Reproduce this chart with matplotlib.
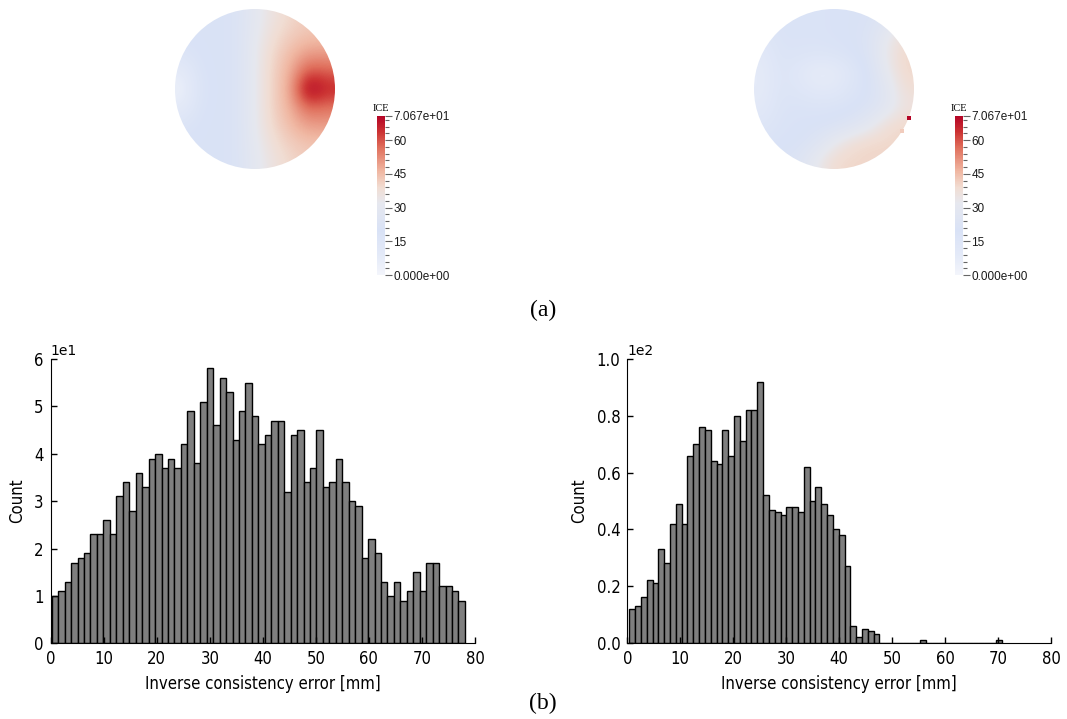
import numpy as np
import matplotlib
matplotlib.use("Agg")
import matplotlib.pyplot as plt
from matplotlib.colors import LinearSegmentedColormap, Normalize
from matplotlib.patches import Circle
from matplotlib.ticker import MultipleLocator
import matplotlib.cm as cm

# ---------------- data ----------------
left_counts = [10, 11, 13, 17, 18, 19, 23, 23, 26, 23,
               31, 34, 28, 36, 33, 39, 40, 37, 39, 37,
               42, 49, 38, 51, 58, 46, 56, 53, 43, 49,
               55, 48, 42, 44, 47, 47, 32, 44, 45, 34,
               37, 45, 33, 34, 39, 34, 30, 29, 18, 22,
               19, 13, 10, 13, 9, 11, 15, 11, 17, 17,
               12, 12, 11, 9]
left_range = (0.2, 78.1)

right_counts = [12, 13, 16, 22, 21, 33, 28, 42, 49, 42,
                66, 70, 76, 75, 64, 63, 75, 66, 80, 71,
                82, 82, 92, 52, 47, 46, 45, 48, 48, 46,
                62, 50, 55, 49, 45, 40, 38, 27, 6, 2,
                5, 4, 3, 0, 0, 0, 0, 0, 0, 0,
                1, 0, 0, 0, 0, 0, 0, 0, 0, 0,
                0, 0, 0, 1]
right_range = (0.38, 70.67)

ice_max = 70.67
cbar_ticks = [0, 15, 30, 45, 60, ice_max]
cbar_labels = ["0.000e+00", "15", "30", "45", "60", "7.067e+01"]

# ICE field sampled on a 9x9 grid (rows top->bottom, cols left->right)
ice_left = [
    [20, 20, 20, 22, 30, 36, 40, 42, 42],
    [20, 20, 20, 22, 31, 38, 42, 44, 44],
    [16, 20, 20, 22, 32, 40, 45, 50, 50],
    [8, 19, 20, 22, 32, 41, 47, 60, 58],
    [4, 18, 20, 22, 32, 41, 48, 74, 66],
    [8, 19, 20, 22, 32, 41, 47, 58, 56],
    [16, 20, 20, 22, 32, 40, 45, 50, 50],
    [20, 20, 20, 22, 31, 38, 42, 44, 44],
    [20, 20, 20, 22, 30, 36, 40, 42, 42],
]
ice_right = [
    [18, 18, 18, 18, 19, 20, 21, 25, 30],
    [14, 18, 18, 18, 19, 20, 23, 32, 38],
    [10, 17, 17, 16, 17, 19, 23, 34, 40],
    [8, 16, 12, 6, 7, 14, 21, 32, 40],
    [8, 16, 14, 10, 10, 16, 20, 28, 38],
    [10, 17, 18, 17, 18, 19, 22, 28, 36],
    [14, 18, 19, 20, 21, 24, 30, 38, 40],
    [18, 19, 20, 24, 32, 38, 40, 40, 40],
    [20, 21, 24, 32, 39, 40, 40, 40, 40],
]
right_spots_x = [0.94, 0.85]
right_spots_y = [0.36, 0.52]
right_spots_v = [70.67, 42]

# ---------------- style ----------------
cmap = LinearSegmentedColormap.from_list("ice", [
    (0.00, "#f3f5fb"), (0.12, "#e4eaf8"), (0.28, "#d9e2f6"),
    (0.45, "#e6e8ef"), (0.55, "#f1ddd3"), (0.65, "#f0b8a3"),
    (0.80, "#e0705d"), (0.90, "#cc3333"), (1.00, "#b40426")])
norm = Normalize(0, ice_max)

W, H = 1067, 719
fig = plt.figure(figsize=(W / 100, H / 100), dpi=100)

def box(x0, y0, x1, y1):
    return [x0 / W, 1 - y1 / H, (x1 - x0) / W, (y1 - y0) / H]

def field(rect, grid, sx=None, sy=None, sv=None):
    ax = fig.add_axes(box(*rect))
    im = ax.imshow(np.array(grid, float), cmap=cmap, norm=norm,
                   extent=[-1, 1, 1, -1], interpolation="bicubic")
    im.set_clip_path(Circle((0, 0), 1.0, transform=ax.transData))
    if sx is not None:
        ax.scatter(sx, sy, c=sv, cmap=cmap, norm=norm, marker="s", s=8,
                   linewidths=0, zorder=3)
    ax.set_xlim(-1, 1)
    ax.set_ylim(1, -1)
    ax.axis("off")

def cbar(rect):
    cax = fig.add_axes(box(*rect))
    cb = fig.colorbar(cm.ScalarMappable(norm=norm, cmap=cmap), cax=cax)
    cb.outline.set_visible(False)
    cb.set_ticks(cbar_ticks)
    cb.set_ticklabels(cbar_labels)
    cax.yaxis.set_minor_locator(MultipleLocator(3))
    cax.tick_params(which="both", direction="out", color="#666666",
                    width=0.8, labelsize=8.5, labelcolor="#1a1a1a", pad=1,
                    labelfontfamily="Liberation Sans")
    cax.tick_params(which="major", length=5)
    cax.tick_params(which="minor", length=3)
    cax.text(0.5, 1.02, "ICE", transform=cax.transAxes, ha="center",
             va="bottom", fontsize=7.5, family="Liberation Serif")

field((175, 9, 335, 169), ice_left)
cbar((377, 116, 385, 275))
field((754, 9, 914, 169), ice_right, right_spots_x, right_spots_y, right_spots_v)
cbar((955, 116, 963, 275))

def hist(rect, counts, rng, ymax):
    ax = fig.add_axes(box(*rect))
    edges = np.linspace(rng[0], rng[1], len(counts) + 1)
    ax.bar(edges[:-1], counts, width=np.diff(edges), align="edge",
           color="#7f7f7f", edgecolor="black", linewidth=1.0)
    ax.set_xlim(0, 80)
    ax.set_ylim(0, ymax)
    for s in ("top", "right"):
        ax.spines[s].set_visible(False)
    ax.tick_params(direction="in", length=4, width=1, top=False,
                   right=False, labelsize=12, pad=5)
    ax.ticklabel_format(axis="y", style="sci", scilimits=(0, 0))
    ax.yaxis.get_offset_text().set_fontsize(10)
    for lab in ax.get_xticklabels() + ax.get_yticklabels():
        lab.set_fontstretch("condensed")
    ax.set_xlabel("Inverse consistency error [mm]", fontsize=12, labelpad=5,
                  fontstretch="condensed")
    ax.set_ylabel("Count", fontsize=12, labelpad=6, fontstretch="condensed")
    return ax

hist((50.7, 359, 475, 643.3), left_counts, left_range, 60)
hist((627.3, 359.3, 1051, 642.7), right_counts, right_range, 100)

fig.text(543 / W, 1 - 310 / H, "(a)", ha="center", va="center",
         fontsize=17, family="Liberation Serif")
fig.text(543 / W, 1 - 703 / H, "(b)", ha="center", va="center",
         fontsize=17, family="Liberation Serif")

fig.savefig("out.png", dpi=100)
